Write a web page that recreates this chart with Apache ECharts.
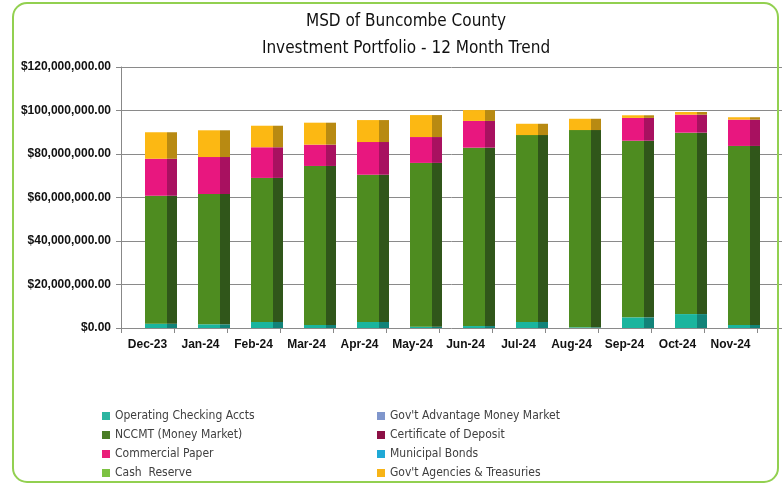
<!DOCTYPE html>
<html>
<head>
<meta charset="utf-8">
<script src="https://cdn.jsdelivr.net/npm/echarts@6/dist/echarts.min.js"></script>
<style>
  html, body { margin: 0; padding: 0; background: #fff; }
  #main { width: 782px; height: 490px; }
</style>
</head>
<body>
<div id="main"></div>
<script>
var dom = document.getElementById("main");
var myChart = echarts.init(dom);
var titleFont = "'DejaVu Sans Condensed', sans-serif";
var labelFont = "'Liberation Sans', Arial, sans-serif";

var months = ["Dec-23", "Jan-24", "Feb-24", "Mar-24", "Apr-24", "May-24",
              "Jun-24", "Jul-24", "Aug-24", "Sep-24", "Oct-24", "Nov-24"];

// values in millions of dollars
var operating   = [2.0, 1.7, 2.8, 1.4, 2.8, 0.6, 0.9, 2.8, 0.3, 4.9, 6.4, 1.4];
var govAdvMM    = [0, 0, 0, 0, 0, 0, 0, 0, 0, 0, 0, 0];
var nccmt       = [58.8, 59.9, 66.2, 73.1, 67.7, 75.3, 82.0, 85.9, 90.7, 81.2, 83.4, 82.3];
var certDeposit = [0, 0, 0, 0, 0, 0, 0, 0, 0, 0, 0, 0];
var commPaper   = [17.0, 17.0, 14.1, 9.8, 15.0, 11.9, 12.3, 0, 0, 10.5, 8.3, 12.1];
var muniBonds   = [0, 0, 0, 0, 0, 0, 0, 0, 0, 0, 0, 0];
var cashReserve = [0, 0, 0, 0, 0, 0, 0, 0, 0, 0, 0, 0];
var govAgencies = [12.2, 12.3, 9.9, 10.1, 10.1, 10.1, 5.0, 5.2, 5.2, 1.2, 1.2, 1.1];

function dollars(arr) {
    return arr.map(function (v) { return Math.round(v * 1e6); });
}

// front face / side face, to fake the 3d column look
function face(front, side) {
    return new echarts.graphic.LinearGradient(0, 0, 1, 0, [
        { offset: 0, color: front },
        { offset: 0.69, color: front },
        { offset: 0.69, color: side },
        { offset: 1, color: side }
    ]);
}

var seriesDefs = [
    { name: "Operating Checking Accts", data: operating, front: "#1ab59e", side: "#128379" },
    { name: "Gov't Advantage Money Market", data: govAdvMM, front: "#7f96cc", side: "#5a6e99" },
    { name: "NCCMT (Money Market)", data: nccmt, front: "#4e8c20", side: "#30561a" },
    { name: "Certificate of Deposit", data: certDeposit, front: "#8c1045", side: "#5e0a2e" },
    { name: "Commercial Paper", data: commPaper, front: "#e8177f", side: "#a81160" },
    { name: "Municipal Bonds", data: muniBonds, front: "#1fa9d6", side: "#15799a" },
    { name: "Cash  Reserve", data: cashReserve, front: "#7cc242", side: "#578a2e" },
    { name: "Gov't Agencies & Treasuries", data: govAgencies, front: "#fcb813", side: "#b88a12" }
];

var legendColors = {
    "Operating Checking Accts": "#2bb5a0",
    "Gov't Advantage Money Market": "#7f96cc",
    "NCCMT (Money Market)": "#4a7d25",
    "Certificate of Deposit": "#8c1045",
    "Commercial Paper": "#ea1e7a",
    "Municipal Bonds": "#1fa9d6",
    "Cash  Reserve": "#7cc242",
    "Gov't Agencies & Treasuries": "#f7b417"
};
var legendLeft = ["Operating Checking Accts", "NCCMT (Money Market)", "Commercial Paper", "Cash  Reserve"];
var legendRight = ["Gov't Advantage Money Market", "Certificate of Deposit", "Municipal Bonds", "Gov't Agencies & Treasuries"];

function legendData(names) {
    return names.map(function (n) {
        return { name: n, itemStyle: { color: legendColors[n] } };
    });
}

var series = seriesDefs.map(function (s) {
    return {
        name: s.name,
        type: 'bar',
        stack: 'total',
        xAxisIndex: 2,
        yAxisIndex: 2,
        barWidth: 32,
        animation: false,
        data: dollars(s.data),
        itemStyle: { color: face(s.front, s.side) }
    };
});

var legendCommon = {
    orient: 'vertical',
    top: 404,
    itemWidth: 8,
    itemHeight: 8,
    itemGap: 5,
    itemTextGap: 4,
    icon: 'rect',
    selectedMode: false,
    textStyle: { fontFamily: titleFont, fontSize: 12, color: '#404040', lineHeight: 14 }
};

var option = {
    backgroundColor: '#fff',
    animation: false,
    title: {
        text: 'MSD of Buncombe County\nInvestment Portfolio - 12 Month Trend',
        left: 401,
        textAlign: 'center',
        top: 3,
        textStyle: {
            fontFamily: titleFont,
            fontSize: 17,
            fontWeight: 'normal',
            color: '#111',
            lineHeight: 27
        }
    },
    legend: [
        Object.assign({ left: 97, data: legendData(legendLeft) }, legendCommon),
        Object.assign({ left: 372, data: legendData(legendRight) }, legendCommon)
    ],
    grid: [
        { left: 121, right: 0, top: 67, bottom: 162 },
        { left: 121, right: 25, top: 67, bottom: 162 },
        { left: 134.5, right: 11.5, top: 67, bottom: 162 }
    ],
    xAxis: [
        { gridIndex: 0, type: 'value', show: false },
        {
            gridIndex: 1,
            type: 'category',
            data: months,
            axisLine: { show: false },
            axisTick: { show: true, length: 5, lineStyle: { color: '#888' } },
            axisLabel: { interval: 0, fontFamily: labelFont, fontWeight: 'bold', fontSize: 12, color: '#111', margin: 11 }
        },
        { gridIndex: 2, type: 'category', data: months, show: false }
    ],
    yAxis: [
        {
            gridIndex: 0,
            type: 'value',
            min: 0,
            max: 120000000,
            interval: 20000000,
            axisLine: { show: true, lineStyle: { color: '#888' } },
            axisTick: { show: true, length: 5, lineStyle: { color: '#888' } },
            splitLine: { lineStyle: { color: '#8a8a8a', width: 1 } },
            axisLabel: {
                fontFamily: labelFont,
                fontWeight: 'bold',
                fontSize: 12,
                color: '#111',
                margin: 10,
                formatter: function (v) {
                    return '$' + v.toLocaleString('en-US', { minimumFractionDigits: 2, maximumFractionDigits: 2 });
                }
            }
        },
        { gridIndex: 1, type: 'value', min: 0, max: 120000000, show: false },
        { gridIndex: 2, type: 'value', min: 0, max: 120000000, show: false }
    ],
    graphic: [
        {
            type: 'rect',
            shape: { x: 13, y: 3, width: 765, height: 479, r: 14 },
            style: { fill: 'none', stroke: '#92d050', lineWidth: 2 },
            z: 100
        }
    ],
    series: series
};
myChart.setOption(option);
</script>
</body>
</html>
